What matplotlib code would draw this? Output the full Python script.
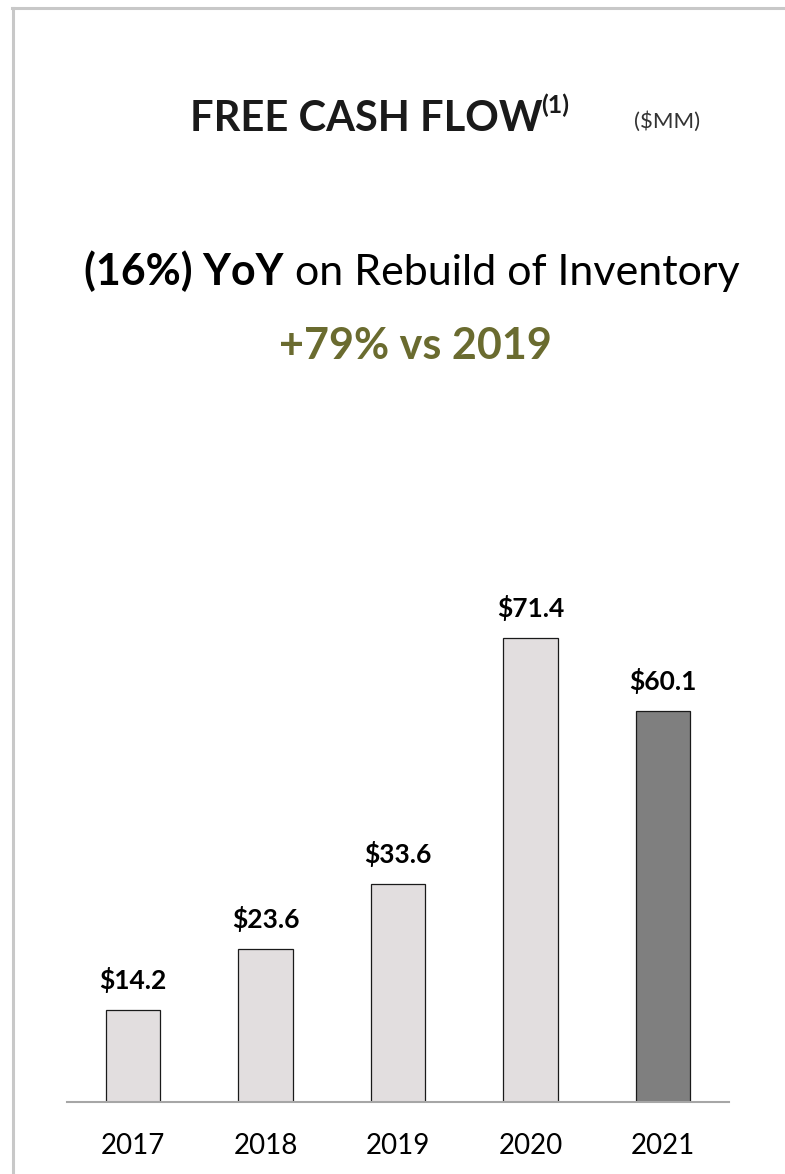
import matplotlib.pyplot as plt
from matplotlib.lines import Line2D

# Data
years = ['2017', '2018', '2019', '2020', '2021']
fcf = [14.2, 23.6, 33.6, 71.4, 60.1]
labels = ['$14.2', '$23.6', '$33.6', '$71.4', '$60.1']
colors = ['#E2DEDF', '#E2DEDF', '#E2DEDF', '#E2DEDF', '#7F7F7F']

W, H = 785, 1174
plt.rcParams['font.family'] = ['Lato', 'DejaVu Sans']
fig = plt.figure(figsize=(W / 100, H / 100), dpi=100)

# frame lines (top and left)
fig.add_artist(Line2D([12 / W, 1], [1 - 8 / H, 1 - 8 / H], color='#C8C8C8', lw=2.2))
fig.add_artist(Line2D([13 / W, 13 / W], [0, 1 - 8 / H], color='#C8C8C8', lw=2.2))

# bar chart
ax = fig.add_axes([67 / W, 72 / H, 662 / W, 520 / H])
x = range(len(years))
ax.bar(x, fcf, width=0.41, color=colors, edgecolor='#1a1a1a', linewidth=0.9, zorder=2)
for xi, v, lab in zip(x, fcf, labels):
    ax.text(xi, v + 2.6, lab, ha='center', va='bottom', fontsize=19, fontweight='bold', color='black')
ax.set_xlim(-0.5, 4.5)
ax.set_ylim(0, 80)
ax.set_xticks(list(x))
ax.set_xticklabels(years, fontsize=20)
ax.tick_params(axis='x', length=0, pad=22)
ax.set_yticks([])
for s in ['top', 'right', 'left']:
    ax.spines[s].set_visible(False)
ax.spines['bottom'].set_color('#A6A6A6')
ax.spines['bottom'].set_linewidth(1.5)

renderer = fig.canvas.get_renderer()


def line_of_pieces(pieces, cx, y):
    # pieces: list of (text, kwargs); centered at cx (pixels), baseline y (pixels from top)
    arts = []
    for txt, kw in pieces:
        t = fig.text(0, 1 - y / H, txt, va='baseline', ha='left', **kw)
        arts.append(t)
    widths = [a.get_window_extent(renderer).width for a in arts]
    start = cx - sum(widths) / 2
    for a, w in zip(arts, widths):
        a.set_x(start / W)
        start += w
    return arts


# title
line_of_pieces([('FREE CASH FLOW', dict(fontsize=30, fontweight='bold', color='#1a1a1a'))], 366, 131)
fig.text(541 / W, 1 - 113 / H, '(1)', fontsize=18, fontweight='bold', color='#1a1a1a', va='baseline')
fig.text(667 / W, 1 - 128 / H, '($MM)', fontsize=16, color='#333333', va='baseline', ha='center')

# headline
line_of_pieces([('(16%) YoY', dict(fontsize=31, fontweight='bold', color='black')),
                (' on Rebuild of Inventory', dict(fontsize=31, color='black'))], 412, 285)
line_of_pieces([('+79% vs 2019', dict(fontsize=31, fontweight='bold', color='#6A6B2F'))], 415, 359)

fig.savefig('out.png', dpi=100)
